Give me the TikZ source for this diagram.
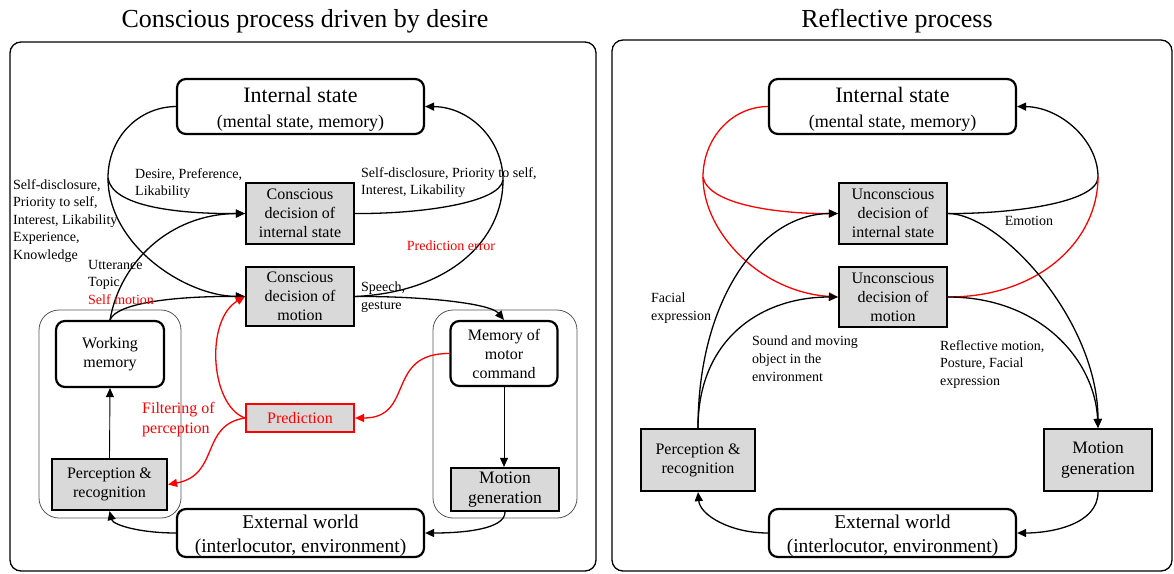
\documentclass[tikz,border=0pt]{standalone}
\usepackage{fontspec}
\setmainfont{Liberation Serif}
\usetikzlibrary{arrows.meta}
\definecolor{boxgray}{HTML}{D9D9D9}
\definecolor{grpgray}{HTML}{555555}
\begin{document}
\begin{tikzpicture}[x=1pt,y=-1pt,
  box/.style={draw=black, line width=2.2pt, fill=boxgray, align=center, inner sep=0pt,
    font=\fontsize{16}{19}\selectfont},
  redbox/.style={box, draw=red, text=red},
  rbox/.style={draw=black, line width=2.2pt, rounded corners=9pt, fill=white, align=center,
    inner sep=0pt, font=\fontsize{16}{19}\selectfont},
  bigbox/.style={rbox, minimum width=247pt},
  mgbox/.style={box, font=\fontsize{17.5}{20.5}\selectfont},
  panel/.style={draw=black, line width=1.3pt, rounded corners=11pt},
  grp/.style={draw=grpgray, line width=0.8pt, rounded corners=20pt},
  con/.style={line width=1.3pt, -{Triangle[length=9pt,width=8pt]}},
  seg/.style={line width=1.3pt},
  thin/.style={line width=0.9pt, -{Triangle[length=9pt,width=8pt]}},
  lbl/.style={font=\fontsize{14}{17.6}\selectfont, align=left, anchor=north west, inner sep=0pt},
  ttl/.style={font=\fontsize{26}{30}\selectfont, inner sep=0pt}
]
\useasboundingbox (0,0) rectangle (1174,573);

% ---------- panels and titles ----------
\draw[panel] (10,42) rectangle (596,571);
\draw[panel] (612,40) rectangle (1172,571);
\node[ttl] (T1) at (305,21) {Conscious process driven by desire};
\node[ttl] (T2) at (897,21) {Reflective process};

% ---------- left panel ----------
\draw[grp] (39,310) rectangle (181,518);
\draw[grp] (433,310) rectangle (577,518);

\node[bigbox, minimum height=55pt, font=\fontsize{18}{25}\selectfont] (LIS) at (300.5,106.5)
  {\rule{0pt}{21pt}{\fontsize{22}{25}\selectfont Internal state}\\(mental state, memory)};
\node[box, minimum width=108pt, minimum height=61pt] (LCDI) at (300,213.5)
  {Conscious\\decision of\\internal state};
\node[box, minimum width=108pt, minimum height=59pt] (LCDM) at (300,296.5)
  {Conscious\\decision of\\motion};
\node[redbox, minimum width=108pt, minimum height=28pt] (LPRED) at (300,418) {Prediction};
\node[rbox, minimum width=108pt, minimum height=66pt] (LWM) at (110,354) {Working\\memory};
\node[box, minimum width=115pt, minimum height=51pt] (LPR) at (109.5,484.5)
  {Perception \&\\recognition};
\node[bigbox, minimum height=48pt, font=\fontsize{19.5}{24}\selectfont] (LEW) at (300.5,533)
  {\rule{0pt}{19.5pt}External world\\(interlocutor, environment)};
\node[rbox, minimum width=107pt, minimum height=65pt] (LMMC) at (504,353.5)
  {Memory of\\motor\\command};
\node[mgbox, minimum width=108pt, minimum height=43pt] (LMG) at (505,489.5)
  {Motion\\generation};

\coordinate (P1) at (108,178);
\coordinate (P2) at (503,180);

\draw[seg] (LIS.west) .. controls (138,107) and (108,138) .. (P1);
\draw[con] (P1) .. controls (112,207) and (180,214) .. (LCDI.west);
\draw[con] (P1) .. controls (108,245) and (185,296) .. (LCDM.west);
\draw[con] (LWM.north) .. controls (120,262) and (170,214) .. (LCDI.west);
\draw[con] (LWM.north) .. controls (117,302) and (180,296) .. (LCDM.west);
\draw[seg] (LCDI.east) .. controls (420,214) and (500,203) .. (P2);
\draw[seg] (LCDM.east) .. controls (450,292) and (503,240) .. (P2);
\draw[con] (P2) .. controls (503,140) and (470,107) .. (LIS.east);
\draw[con] (LCDM.east) .. controls (420,296) and (490,303) .. (LMMC.north);
\draw[thin] (LMMC.south) -- (LMMC.south |- LMG.north);
\draw[con] (LMG.south) .. controls (505,530) and (460,533) .. (LEW.east);
\draw[con] (LEW.west) .. controls (140,533) and (113,525) .. (LPR.south);
\draw[thin] (LPR.north) -- (LWM.south);
\draw[con, red] (LMMC.west) .. controls (385,353) and (415,418) .. (LPRED.east);
\draw[con, red] (LPRED.west) .. controls (210,405) and (205,320) .. (LCDM.west);
\draw[con, red] (LPRED.west) .. controls (200,425) and (220,475) .. (LPR.east);

\node[lbl] (La) at (13,179) {Self-disclosure,\\Priority to self,\\Interest, Likability\\Experience,\\Knowledge};
\node[lbl] (Lb) at (135,168) {Desire, Preference,\\Likability};
\node[lbl] (Lc) at (361,167) {Self-disclosure, Priority to self,\\Interest, Likability};
\node[lbl] (Ld) at (88,260) {Utterance\\Topic\\\textcolor{red}{Self motion}};
\node[lbl, anchor=center, text=red] (Le) at (451,246) {Prediction error};
\node[lbl] (Lf) at (361,282) {Speech,\\gesture};
\node[lbl, font=\fontsize{16}{20}\selectfont, text=red] (Lg) at (142,402) {Filtering of\\perception};

% ---------- right panel ----------
\node[bigbox, minimum height=55pt, font=\fontsize{18}{25}\selectfont] (RIS) at (892.5,106.5)
  {\rule{0pt}{21pt}{\fontsize{22}{25}\selectfont Internal state}\\(mental state, memory)};
\node[box, minimum width=108pt, minimum height=61pt] (RUI) at (893,213.5)
  {Unconscious\\decision of\\internal state};
\node[box, minimum width=108pt, minimum height=60pt] (RUM) at (893,297)
  {Unconscious\\decision of\\motion};
\node[box, minimum width=114pt, minimum height=62pt] (RPR) at (698,460)
  {Perception \&\\recognition};
\node[mgbox, minimum width=108pt, minimum height=62pt] (RMG) at (1098,460)
  {Motion\\generation};
\node[bigbox, minimum height=48pt, font=\fontsize{19.5}{24}\selectfont] (REW) at (892.5,533)
  {\rule{0pt}{19.5pt}External world\\(interlocutor, environment)};

\coordinate (P3) at (703,177);
\coordinate (P4) at (1098,177);

\draw[seg, red] (RIS.west) .. controls (730,107) and (703,140) .. (P3);
\draw[con, red] (P3) .. controls (708,205) and (780,214) .. (RUI.west);
\draw[con, red] (P3) .. controls (703,232) and (760,292) .. (RUM.west);
\draw[con] (RPR.north) .. controls (698,300) and (760,214) .. (RUI.west);
\draw[con] (RPR.north) .. controls (698,340) and (760,297) .. (RUM.west);
\draw[seg] (RUI.east) .. controls (1010,214) and (1098,203) .. (P4);
\draw[seg, red] (RUM.east) .. controls (1040,297) and (1098,240) .. (P4);
\draw[con] (P4) .. controls (1098,140) and (1060,107) .. (RIS.east);
\draw[con] (RUI.east) .. controls (1000,214) and (1098,320) .. (RMG.north);
\draw[con] (RUM.east) .. controls (1040,297) and (1095,360) .. (RMG.north);
\draw[con] (RMG.south) .. controls (1098,525) and (1050,533) .. (REW.east);
\draw[con] (REW.west) .. controls (730,533) and (700,515) .. (RPR.south);

\node[lbl] (Ra) at (651,293) {Facial\\expression};
\node[lbl] (Rb) at (752,336) {Sound and moving\\object in the\\environment};
\node[lbl, anchor=center] (Rc) at (1029,221) {Emotion};
\node[lbl] (Rd) at (940,340) {Reflective motion,\\Posture, Facial\\expression};
\end{tikzpicture}
\end{document}
